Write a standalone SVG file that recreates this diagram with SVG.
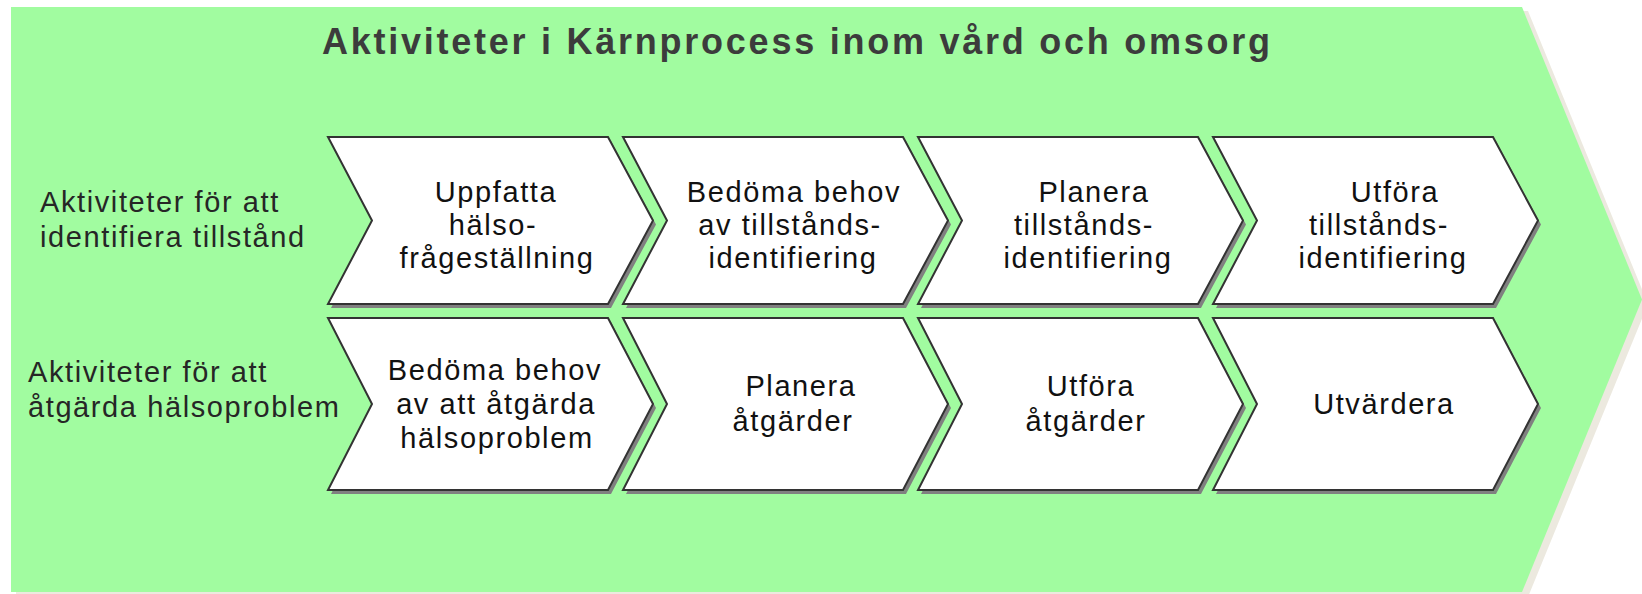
<svg xmlns="http://www.w3.org/2000/svg" width="1642" height="594" viewBox="0 0 1642 594">
<style>
.bg{fill:#A1FCA0}
.bgsh{fill:#ECE9DF}
.chev{fill:#FFFFFF;stroke:#333333;stroke-width:2;stroke-linejoin:miter}
.sh{fill:#808080}
.t{font-family:"Liberation Sans",Arial,sans-serif;font-size:29px;letter-spacing:1.6px;fill:#111111;text-anchor:middle}
.lbl{font-family:"Liberation Sans",Arial,sans-serif;font-size:29px;letter-spacing:1.6px;fill:#262626}
.title{font-family:"Liberation Sans",Arial,sans-serif;font-size:36px;font-weight:bold;fill:#3c3c3c}
</style>
<rect width="1642" height="594" fill="#FFFFFF"/>
<g id="process-container">
<polygon class="bgsh" points="16,11 1528,11 1648,304 1528,597 16,597"/>
<polygon class="bg" points="11,7 1522,7 1642,299.5 1522,592 11,592"/>
<text class="title" x="322" y="54" textLength="948" lengthAdjust="spacing">Aktiviteter i Kärnprocess inom vård och omsorg</text>
</g>
<g id="label-row1">
<text class="lbl" x="40" y="212">Aktiviteter för att</text>
<text class="lbl" x="40" y="247">identifiera tillstånd</text>
</g>
<g id="label-row2">
<text class="lbl" x="28" y="382">Aktiviteter för att</text>
<text class="lbl" x="28" y="417">åtgärda hälsoproblem</text>
</g>
<g id="r1c1">
<path class="sh" d="M331,141 H611 L656,224.5 L611,308 H331 L375,224.5 Z"/>
<path class="chev" d="M328,137 H608 L653,220.5 L608,304 H328 L372,220.5 Z"/>
<text class="t"><tspan x="496" y="202">Uppfatta</tspan><tspan x="493" y="235">hälso-</tspan><tspan x="497" y="268">frågeställning</tspan></text>
</g>
<g id="r1c2">
<path class="sh" d="M626,141 H906 L951,224.5 L906,308 H626 L670,224.5 Z"/>
<path class="chev" d="M623,137 H903 L948,220.5 L903,304 H623 L667,220.5 Z"/>
<text class="t"><tspan x="794" y="202">Bedöma behov</tspan><tspan x="790" y="235">av tillstånds-</tspan><tspan x="793" y="268">identifiering</tspan></text>
</g>
<g id="r1c3">
<path class="sh" d="M921,141 H1201 L1246,224.5 L1201,308 H921 L965,224.5 Z"/>
<path class="chev" d="M918,137 H1198 L1243,220.5 L1198,304 H918 L962,220.5 Z"/>
<text class="t"><tspan x="1094" y="202">Planera</tspan><tspan x="1084" y="235">tillstånds-</tspan><tspan x="1088" y="268">identifiering</tspan></text>
</g>
<g id="r1c4">
<path class="sh" d="M1216,141 H1496 L1541,224.5 L1496,308 H1216 L1260,224.5 Z"/>
<path class="chev" d="M1213,137 H1493 L1538,220.5 L1493,304 H1213 L1257,220.5 Z"/>
<text class="t"><tspan x="1395" y="202">Utföra</tspan><tspan x="1379" y="235">tillstånds-</tspan><tspan x="1383" y="268">identifiering</tspan></text>
</g>
<g id="r2c1">
<path class="sh" d="M331,322 H611 L656,408 L611,494 H331 L375,408 Z"/>
<path class="chev" d="M328,318 H608 L653,404 L608,490 H328 L372,404 Z"/>
<text class="t"><tspan x="495" y="380">Bedöma behov</tspan><tspan x="496" y="414">av att åtgärda</tspan><tspan x="497" y="448">hälsoproblem</tspan></text>
</g>
<g id="r2c2">
<path class="sh" d="M626,322 H906 L951,408 L906,494 H626 L670,408 Z"/>
<path class="chev" d="M623,318 H903 L948,404 L903,490 H623 L667,404 Z"/>
<text class="t"><tspan x="801" y="396">Planera</tspan><tspan x="793" y="431">åtgärder</tspan></text>
</g>
<g id="r2c3">
<path class="sh" d="M921,322 H1201 L1246,408 L1201,494 H921 L965,408 Z"/>
<path class="chev" d="M918,318 H1198 L1243,404 L1198,490 H918 L962,404 Z"/>
<text class="t"><tspan x="1091" y="396">Utföra</tspan><tspan x="1086" y="431">åtgärder</tspan></text>
</g>
<g id="r2c4">
<path class="sh" d="M1216,322 H1496 L1541,408 L1496,494 H1216 L1260,408 Z"/>
<path class="chev" d="M1213,318 H1493 L1538,404 L1493,490 H1213 L1257,404 Z"/>
<text class="t"><tspan x="1384" y="414">Utvärdera</tspan></text>
</g>
<g id="connectors"/>
</svg>
